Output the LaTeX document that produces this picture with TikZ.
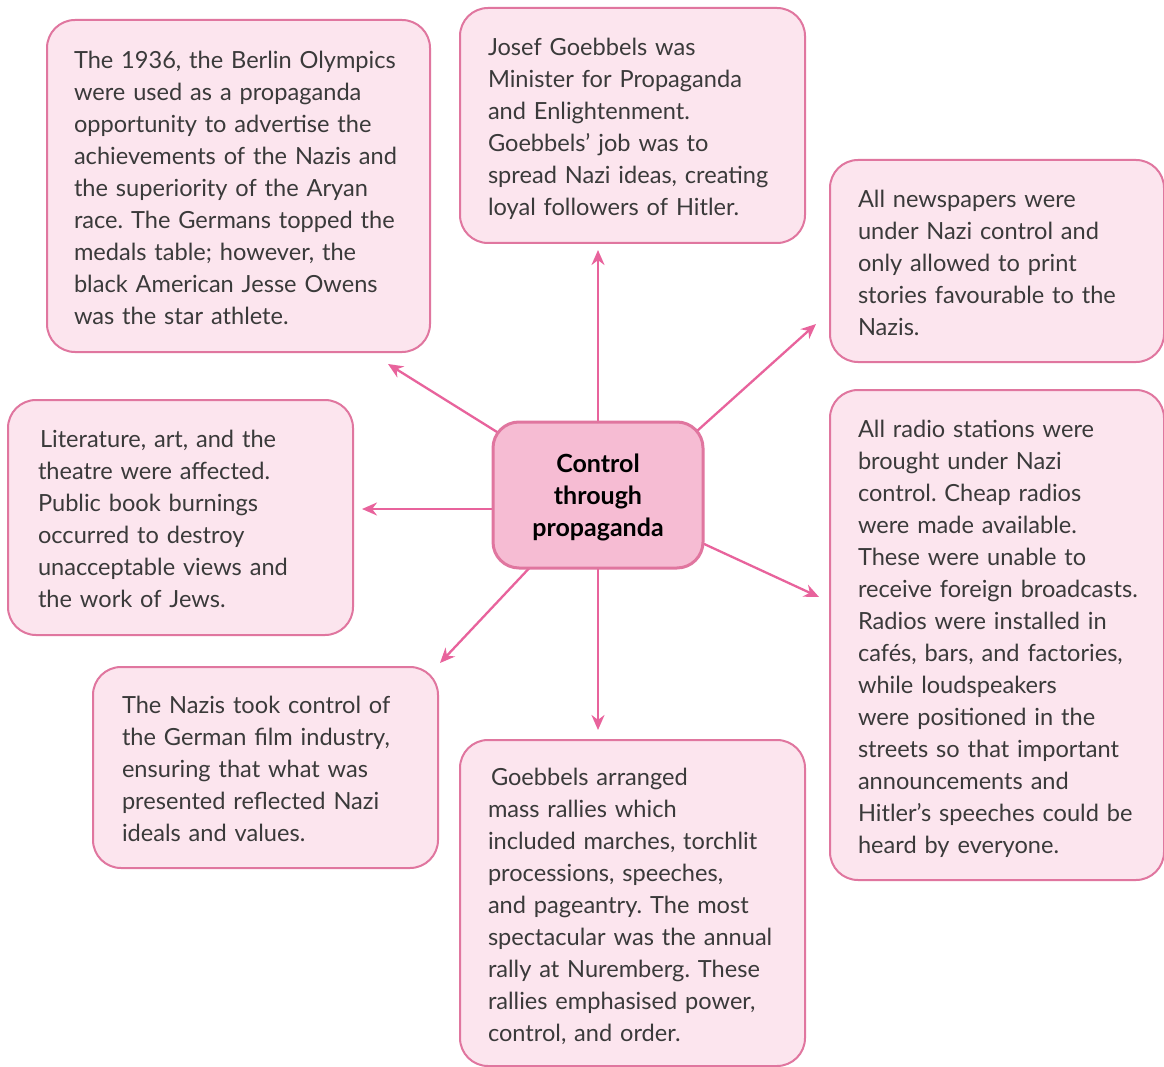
\documentclass[tikz,border=0pt]{standalone}
\usepackage{fontspec}
\setmainfont{Lato}
\frenchspacing
\usetikzlibrary{arrows.meta,backgrounds}
\definecolor{boxfill}{HTML}{FCE5EE}
\definecolor{boxline}{HTML}{E0769F}
\definecolor{hubfill}{HTML}{F6BCD3}
\definecolor{arrowpink}{HTML}{E8639C}
\definecolor{ink}{HTML}{3A3A3A}
% left-aligned block of hand-broken lines, set a little low in its box
\newcommand{\textlines}[1]{\raisebox{-4pt}[\height][\depth]{\begin{tabular}{@{}l@{}}#1\end{tabular}}}
\begin{document}
\begin{tikzpicture}[x=1pt,y=-1pt,
  infobox/.style={draw=boxline, fill=boxfill, line width=2pt, rounded corners=28pt,
    align=left, text=ink, inner sep=0pt, font=\fontsize{23.6}{32}\selectfont},
  hub/.style={draw=boxline, fill=hubfill, line width=3pt, rounded corners=26pt,
    align=center, text=black, inner sep=0pt, font=\bfseries\fontsize{25}{32}\selectfont},
  link/.style={draw=arrowpink, line width=2.3pt, -{Stealth[length=15pt,width=13pt]}}]
\useasboundingbox (0,0) rectangle (1164,1067);

% central topic
\node[hub, minimum width=210pt, minimum height=146pt] (hub) at (598,495)
  {\raisebox{-3pt}[\height][\depth]{\begin{tabular}{@{}c@{}}Control\\through\\propaganda\end{tabular}}};

% surrounding boxes
\node[infobox, minimum width=383pt, minimum height=332pt, text width=329pt] (oly) at (238.5,186)
  {\textlines{The 1936, the Berlin Olympics\\were used as a propaganda\\opportunity to advertise the\\achievements of the Nazis and\\the superiority of the Aryan\\race. The Germans topped the\\medals table; however, the\\black American Jesse Owens\\was the star athlete.}};
\node[infobox, minimum width=345pt, minimum height=235pt, text width=289pt] (goeb) at (632.5,125.5)
  {\textlines{Josef Goebbels was\\Minister for Propaganda\\and Enlightenment.\\Goebbels' job was to\\spread Nazi ideas, creating\\loyal followers of Hitler.}};
\node[infobox, minimum width=334pt, minimum height=202pt, text width=278pt] (news) at (997,261)
  {\textlines{All newspapers were\\under Nazi control and\\only allowed to print\\stories favourable to the\\Nazis.}};
\node[infobox, minimum width=334pt, minimum height=490pt, text width=278pt] (radio) at (997,635)
  {\textlines{All radio stations were\\brought under Nazi\\control. Cheap radios\\were made available.\\These were unable to\\receive foreign broadcasts.\\Radios were installed in\\cafés, bars, and factories,\\while loudspeakers\\were positioned in the\\streets so that important\\announcements and\\Hitler's speeches could be\\heard by everyone.}};
\node[infobox, minimum width=345pt, minimum height=235pt, text width=285pt] (lit) at (180.5,517.5)
  {\textlines{\hspace{2pt}Literature, art, and the\\theatre were affected.\\Public book burnings\\occurred to destroy\\unacceptable views and\\the work of Jews.}};
\node[infobox, minimum width=345pt, minimum height=201pt, text width=287pt] (film) at (265.5,767.5)
  {\textlines{The Nazis took control of\\the German film industry,\\ensuring that what was\\presented reflected Nazi\\ideals and values.}};
\node[infobox, minimum width=345pt, minimum height=326pt, text width=289pt] (rally) at (632.5,903)
  {\textlines{\hspace{3pt}Goebbels arranged\\mass rallies which\\included marches, torchlit\\processions, speeches,\\and pageantry. The most\\spectacular was the annual\\rally at Nuremberg. These\\rallies emphasised power,\\control, and order.}};

% arrow tips just short of each box
\coordinate (tgoeb) at (598,250);
\coordinate (toly) at (388,364);
\coordinate (tlit) at (362,509);
\coordinate (tfilm) at (440,663);
\coordinate (trally) at (598,730);
\coordinate (tnews) at (816,324);
\coordinate (tradio) at (819,597);

% connectors start inside the hub and run out under its fill
\begin{scope}[on background layer]
  \fill[white] (0,0) rectangle (1164,1067);
  \draw[link] (hub.center) -- (tgoeb);
  \draw[link] (hub.center) -- (toly);
  \draw[link] ([yshift=-14pt]hub.center) -- (tlit);
  \draw[link] (hub.center) -- (tfilm);
  \draw[link] (hub.center) -- (trally);
  \draw[link] ([yshift=-25pt]hub.center) -- (tnews);
  \draw[link] (hub.center) -- (tradio);
\end{scope}
\end{tikzpicture}
\end{document}
